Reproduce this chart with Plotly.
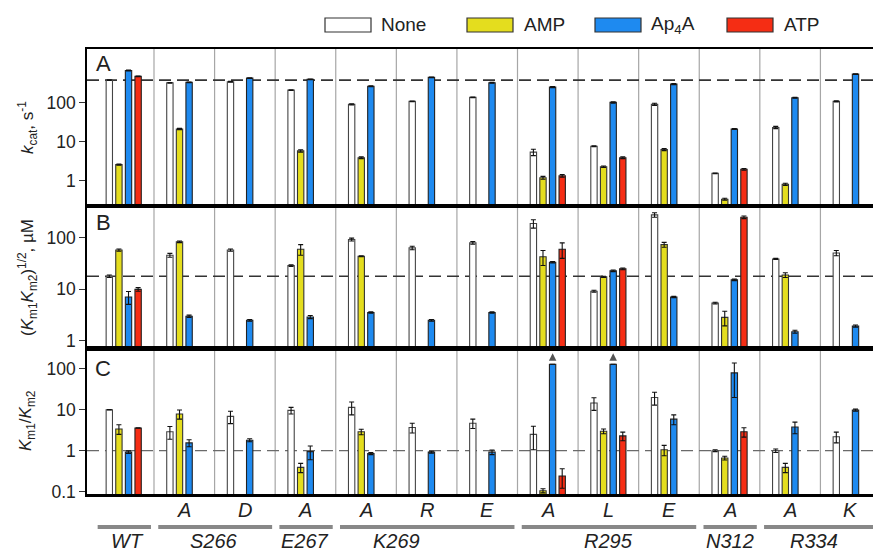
import math
import plotly.graph_objects as go
from plotly.subplots import make_subplots

# ---------------- data ----------------
variants = ["WT", "S266A", "S266D", "E267A", "K269A", "K269R", "K269E",
            "R295A", "R295L", "R295E", "N312A", "R334A", "R334K"]
mutant_letters = ["", "A", "D", "A", "A", "R", "E", "A", "L", "E", "A", "A", "K"]
residue_labels = ["WT", "S266", "E267", "K269", "R295", "N312", "R334"]
residue_first = [0, 1, 3, 4, 7, 10, 11]
residue_last = [0, 2, 3, 6, 9, 10, 12]
residue_label_pos = [0.07, 1.49, 3.0, 4.51, 8.0, 10.0, 11.4]

ligands = ["None", "AMP", "Ap<sub>4</sub>A", "ATP"]
colors = ["#ffffff", "#e4dd1e", "#1e8af0", "#f52d14"]
outlines = ["#444444", "#333333", "#222222", "#222222"]

# Panel A: kcat, s^-1
kcat_none = [369, 315, 335, 205, 89, 106, 134, 5.4, 7.6, 89, 1.56, 23, 106]
kcat_amp = [2.6, 21, None, 5.8, 3.9, None, None, 1.2, 2.3, 6.3, 0.34, 0.82, None]
kcat_ap4a = [650, 323, 415, 385, 257, 433, 315, 245, 100, 292, 21, 131, 525]
kcat_atp = [459, None, None, None, None, None, None, 1.35, 3.9, None, 1.97, None, None]
kcat_none_err = [8, 6, 8, 4, 3, 2, 3, 1.0, 0.2, 6, 0.03, 1.5, 3]
kcat_amp_err = [0.1, 0.8, 0, 0.4, 0.2, 0, 0, 0.1, 0.1, 0.4, 0.02, 0.05, 0]
kcat_ap4a_err = [15, 8, 8, 8, 6, 8, 8, 8, 4, 8, 0.6, 4, 12]
kcat_atp_err = [10, 0, 0, 0, 0, 0, 0, 0.1, 0.2, 0, 0.1, 0, 0]

# Panel B: (Km1 Km2)^1/2, uM
km_none = [18, 46, 58, 29, 93, 64, 80, 190, 9.2, 280, 5.4, 39, 51]
km_amp = [58, 84, None, 60, 44, None, None, 43, 17.5, 74, 2.85, 19, None]
km_ap4a = [7.1, 3.0, 2.5, 2.9, 3.55, 2.5, 3.55, 33.7, 22.9, 7.1, 15.3, 1.5, 1.93]
km_atp = [10, None, None, None, None, None, None, 60, 25, None, 252, None, None]
km_none_err = [1, 4, 3, 1, 6, 5, 5, 35, 0.4, 28, 0.2, 1, 6]
km_amp_err = [3, 3, 0, 14, 1, 0, 0, 14, 0.5, 8, 0.9, 2, 0]
km_ap4a_err = [2, 0.15, 0.1, 0.2, 0.1, 0.1, 0.1, 1, 0.8, 0.2, 0.5, 0.1, 0.1]
km_atp_err = [0.8, 0, 0, 0, 0, 0, 0, 20, 1, 0, 15, 0, 0]

# Panel C: Km1/Km2
ratio_none = [10, 2.9, 6.9, 9.7, 11.5, 3.7, 4.7, 2.5, 14.7, 20, 1.0, 1.0, 2.2]
ratio_amp = [3.4, 7.9, None, 0.39, 2.9, None, None, 0.105, 3.0, 1.05, 0.66, 0.39, None]
ratio_ap4a = [0.92, 1.55, 1.8, 0.95, 0.85, 0.92, 0.92, 130, 130, 5.9, 80, 3.8, 9.8]
ratio_atp = [3.6, None, None, None, None, None, None, 0.24, 2.3, None, 2.9, None, None]
ratio_none_err = [0.1, 1.0, 2.3, 1.8, 4, 1.0, 1.2, 1.45, 5, 7, 0.05, 0.1, 0.65]
ratio_amp_err = [0.9, 2.0, 0, 0.1, 0.45, 0, 0, 0.012, 0.4, 0.3, 0.07, 0.1, 0]
ratio_ap4a_err = [0.07, 0.3, 0.15, 0.35, 0.05, 0.05, 0.12, 0, 0, 1.6, 60, 1.2, 0.6]
ratio_atp_err = [0.05, 0, 0, 0, 0, 0, 0, 0.12, 0.55, 0, 0.75, 0, 0]
arrow_groups = [7, 8]  # Ap4A ratios off-scale (arrows)

panels = [
    ([kcat_none, kcat_amp, kcat_ap4a, kcat_atp],
     [kcat_none_err, kcat_amp_err, kcat_ap4a_err, kcat_atp_err]),
    ([km_none, km_amp, km_ap4a, km_atp],
     [km_none_err, km_amp_err, km_ap4a_err, km_atp_err]),
    ([ratio_none, ratio_amp, ratio_ap4a, ratio_atp],
     [ratio_none_err, ratio_amp_err, ratio_ap4a_err, ratio_atp_err]),
]

# ---------------- geometry ----------------
# page body has an 8px default margin, so the figure is drawn 8px smaller
PAGE_OFF = 8
W, H = 881 - PAGE_OFF, 554 - PAGE_OFF
PLOT_L, PLOT_R, PLOT_T, PLOT_B = 87, 881, 49, 494   # in page pixels
ML = PLOT_L - PAGE_OFF
MT = PLOT_T - PAGE_OFF
MR = 881 - PLOT_R
MB = 554 - PLOT_B
PW, PH = PLOT_R - PLOT_L, PLOT_B - PLOT_T
BARGAP = 0.366
XR = [-0.606, 12.5]


def px_x(px):
    return (px - PLOT_L) / PW


def px_y(py):
    return (PLOT_B - py) / PH


FONT = "Liberation Sans, Arial, sans-serif"

fig = make_subplots(rows=3, cols=1, shared_xaxes=True, vertical_spacing=0)
x = list(range(len(variants)))

for r, (vals, errs) in enumerate(panels):
    for k in range(4):
        fig.add_trace(go.Bar(
            x=x, y=vals[k], name=ligands[k],
            marker=dict(color=colors[k], line=dict(color=outlines[k], width=1.1)),
            error_y=dict(type="data", array=errs[k], visible=True,
                         color="#111111", thickness=1.1, width=2.5),
            showlegend=False, hoverinfo="x+y",
        ), row=r + 1, col=1)

fig.update_layout(
    width=W, height=H,
    margin=dict(l=ML, r=MR, t=MT, b=MB, autoexpand=False),
    plot_bgcolor="white", paper_bgcolor="white",
    barmode="group", bargap=BARGAP, bargroupgap=0.34,
    font=dict(family=FONT, color="#222222"),
    showlegend=False,
)

domains = [[px_y(206), 1.0], [px_y(348.5), px_y(206)], [0.0, px_y(348.5)]]
yranges = [[-0.64, 3.36], [-0.15, 2.62], [-1.06, 2.5]]
ytickv = [[1, 10, 100], [1, 10, 100], [0.1, 1, 10, 100]]
yticktext = [["1", "10", "100"], ["1", "10", "100"], ["0.1", "1", "10", "100"]]

for r in range(3):
    suf = "" if r == 0 else str(r + 1)
    fig.layout["yaxis" + suf].update(
        type="log", range=yranges[r], domain=domains[r],
        tickvals=ytickv[r], ticktext=yticktext[r],
        ticks="outside", ticklen=6, tickwidth=1, tickcolor="#333",
        showline=True, linecolor="black", linewidth=1.5,
        showgrid=False, zeroline=False,
        tickfont=dict(size=17.5, color="#222", family=FONT),
    )
    fig.layout["xaxis" + suf].update(
        range=XR, showticklabels=False, ticks="",
        showline=True, mirror=True, linecolor="black", linewidth=2,
        showgrid=False, zeroline=False,
    )
fig.layout["xaxis3"].update(linewidth=2.5)

shapes = []
# group separators
for i in range(len(variants) - 1):
    shapes.append(dict(type="line", xref="x", yref="paper", x0=i + 0.5, x1=i + 0.5,
                       y0=0, y1=1, line=dict(color="#a6a6a6", width=1.2), layer="below"))
# dashed reference lines
ref_lines = [("y", kcat_none[0], "#333333", 1.6), ("y2", km_none[0], "#333333", 1.6),
             ("y3", 1, "#6a6a6a", 1.3)]
for yref, yv, col, wd in ref_lines:
    shapes.append(dict(type="line", xref="paper", yref=yref, x0=0, x1=1, y0=yv, y1=yv,
                       line=dict(color=col, width=wd, dash="12px,6px"), layer="below"))
# residue underlines
for f, l in zip(residue_first, residue_last):
    shapes.append(dict(type="line", xref="x", yref="paper", x0=f - 0.43, x1=l + 0.45,
                       y0=px_y(527), y1=px_y(527), line=dict(color="#888888", width=4)))
# custom legend boxes
legend_box_px = [325, 467, 595, 727]
legend_text_px = [379, 522, 649, 782]
for k in range(4):
    shapes.append(dict(type="rect", xref="paper", yref="paper",
                       x0=px_x(legend_box_px[k]), x1=px_x(legend_box_px[k] + 46),
                       y0=px_y(32), y1=px_y(18),
                       fillcolor=colors[k], line=dict(color="#333", width=1.2)))
fig.update_layout(shapes=shapes)

ann = []
for k in range(4):
    ann.append(dict(xref="paper", yref="paper", x=px_x(legend_text_px[k]), y=px_y(25),
                    text=ligands[k], showarrow=False, xanchor="left", yanchor="middle",
                    font=dict(size=19, color="#222", family=FONT)))
# panel letters
for letter, py in zip(["A", "B", "C"], [64, 222, 368]):
    ann.append(dict(xref="paper", yref="paper", x=px_x(103), y=px_y(py), text=letter,
                    showarrow=False, xanchor="center", yanchor="middle",
                    font=dict(size=22, color="#222", family=FONT)))
# y-axis titles
ytitles = ["<i>k</i><sub>cat</sub>, s<sup>-1</sup>",
           "(<i>K</i><sub>m1</sub><i>K</i><sub>m2</sub>)<sup>1/2</sup>, \u00b5M",
           "<i>K</i><sub>m1</sub>/<i>K</i><sub>m2</sub>"]
for t, py in zip(ytitles, [127, 277, 420]):
    ann.append(dict(xref="paper", yref="paper", x=px_x(27), y=px_y(py), text=t,
                    textangle=-90, showarrow=False, xanchor="center", yanchor="middle",
                    font=dict(size=17, color="#222", family=FONT)))
# mutation letters
for i, m in enumerate(mutant_letters):
    if m:
        ann.append(dict(xref="x3", yref="paper", x=i, y=px_y(510), text="<i>" + m + "</i>",
                        showarrow=False, xanchor="center", yanchor="middle",
                        font=dict(size=20, color="#222", family=FONT)))
# residue labels
for lab, pos in zip(residue_labels, residue_label_pos):
    ann.append(dict(xref="x3", yref="paper", x=pos, y=px_y(541), text="<i>" + lab + "</i>",
                    showarrow=False, xanchor="center", yanchor="middle",
                    font=dict(size=20, color="#222", family=FONT)))
# arrows for off-scale Ap4A ratios
gw = 1 - BARGAP
ap4a_off = -gw / 2 + 2.5 * gw / 4
for g in arrow_groups:
    ann.append(dict(xref="x3", yref="y3", x=g + ap4a_off,
                    y=math.log10(ratio_ap4a[g]) + 0.27, ax=0, ay=11, text=" ",
                    showarrow=True, arrowhead=2, arrowsize=1, arrowwidth=1.5,
                    arrowcolor="#555555"))
fig.update_layout(annotations=ann)

fig.write_html("out.html")
